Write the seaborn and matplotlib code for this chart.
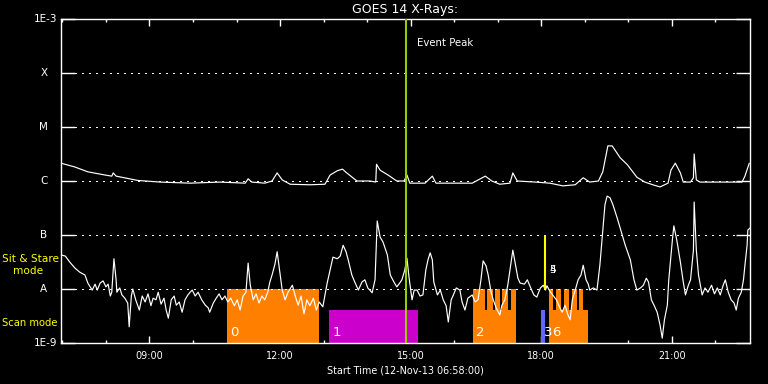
import pandas as pd
import numpy as np
import matplotlib
matplotlib.use("Agg")
import matplotlib.pyplot as plt
import matplotlib.dates as mdates
import seaborn as sns

# =============================================================================
# 01 Data (minutes after start, log10 flux W/m^2)
# =============================================================================
start = pd.Timestamp("2013-11-12 06:58:00")
span_min = 950

# long channel (1-8 A)
long_min = [0, 19, 37, 61, 70, 72, 76, 106, 137, 178, 219, 254, 258, 263, 281, 291,
            298, 305, 316, 343, 364, 371, 381, 388, 394, 408, 426, 434, 435, 440,
            451, 463, 473, 477, 481, 502, 512, 517, 550, 567, 585, 594, 605, 619,
            623, 629, 654, 674, 692, 709, 720, 729, 741, 747, 754, 760, 771, 781,
            794, 805, 816, 826, 837, 841, 847, 854, 858, 868, 872, 873, 876, 881,
            909, 939, 943, 949]
long_log = [-5.67, -5.74, -5.83, -5.89, -5.91, -5.85, -5.91, -5.99, -6.02, -6.04,
            -6.02, -6.04, -5.96, -6.02, -6.04, -6.00, -5.85, -5.98, -6.06, -6.07,
            -6.06, -5.89, -5.81, -5.78, -5.85, -6.00, -6.00, -6.02, -5.69, -5.80,
            -5.89, -6.00, -6.00, -5.89, -6.04, -6.04, -5.91, -6.04, -6.04, -6.04,
            -5.91, -6.00, -6.06, -6.04, -5.85, -6.00, -6.02, -6.04, -6.09, -6.07,
            -5.94, -6.02, -6.00, -5.83, -5.35, -5.35, -5.57, -5.70, -5.93, -6.02,
            -6.07, -6.11, -6.04, -5.80, -5.67, -5.85, -6.02, -6.02, -5.94, -5.50,
            -5.98, -6.02, -6.02, -6.02, -5.91, -5.67]

# short channel (0.5-4 A)
short_min = [0, 6, 12, 19, 26, 33, 37, 43, 47, 50, 54, 58, 62, 65, 68, 70, 73, 76,
             77, 81, 84, 88, 92, 94, 97, 99, 103, 108, 112, 116, 120, 124, 127, 131,
             134, 138, 142, 145, 148, 152, 156, 159, 163, 167, 171, 175, 178, 181,
             185, 189, 194, 199, 203, 205, 210, 214, 218, 222, 226, 230, 234, 239,
             243, 247, 251, 255, 258, 261, 265, 269, 273, 277, 281, 285, 288, 291,
             295, 298, 301, 305, 309, 313, 319, 323, 327, 331, 335, 339, 343, 348,
             352, 356, 361, 367, 371, 375, 381, 385, 389, 393, 396, 401, 405, 410,
             415, 419, 423, 429, 433, 436, 440, 444, 450, 454, 459, 463, 467, 470,
             474, 477, 480, 484, 487, 491, 495, 499, 503, 506, 509, 512, 514, 519,
             523, 527, 531, 534, 538, 541, 545, 550, 553, 557, 561, 567, 571, 575,
             579, 582, 586, 589, 593, 596, 600, 605, 608, 612, 616, 619, 623, 626,
             630, 633, 639, 643, 647, 652, 656, 661, 665, 668, 670, 674, 678, 683,
             688, 691, 695, 699, 702, 705, 709, 713, 717, 720, 724, 727, 729, 734,
             739, 743, 746, 750, 753, 757, 761, 767, 771, 778, 785, 790, 794, 799,
             803, 807, 810, 814, 818, 822, 826, 829, 832, 836, 838, 843, 845, 849,
             854, 858, 861, 865, 868, 872, 873, 876, 879, 884, 888, 892, 897, 901,
             905, 909, 913, 916, 920, 924, 928, 931, 934, 938, 941, 943, 946, 947, 950]
short_log = [-7.37, -7.39, -7.50, -7.61, -7.69, -7.74, -7.89, -8.02, -7.91, -8.02,
             -7.89, -7.85, -7.96, -7.91, -8.13, -8.06, -7.44, -7.83, -8.06, -7.98,
             -8.11, -8.17, -8.26, -8.70, -8.13, -8.00, -8.20, -8.39, -8.13, -8.24,
             -8.09, -8.31, -8.17, -8.20, -8.06, -8.28, -8.17, -8.39, -8.54, -8.20,
             -8.13, -8.30, -8.24, -8.43, -8.20, -8.11, -8.06, -8.02, -8.13, -8.06,
             -8.20, -8.30, -8.35, -8.43, -8.26, -8.17, -8.09, -8.20, -8.13, -8.24,
             -8.17, -8.31, -8.20, -8.39, -8.13, -8.06, -7.52, -7.93, -8.20, -8.09,
             -8.26, -8.13, -8.20, -8.06, -7.87, -7.74, -7.54, -7.31, -7.61, -8.02,
             -8.20, -8.06, -7.93, -8.13, -8.30, -8.13, -8.46, -8.20, -8.31, -8.17,
             -8.39, -8.24, -8.33, -7.89, -7.65, -7.41, -7.44, -7.39, -7.19, -7.31,
             -7.46, -7.74, -7.87, -8.02, -7.87, -7.83, -7.98, -8.07, -7.83, -6.74,
             -7.04, -7.13, -7.37, -7.74, -7.87, -7.96, -7.89, -7.83, -7.65, -7.43,
             -7.80, -8.20, -8.02, -8.02, -8.13, -8.11, -7.65, -7.46, -7.33, -7.46,
             -7.87, -8.11, -8.02, -8.20, -8.31, -8.61, -8.20, -8.11, -7.98, -8.02,
             -8.24, -8.39, -8.17, -8.11, -8.24, -8.20, -7.83, -7.48, -7.57, -7.74,
             -8.06, -8.20, -8.35, -8.48, -8.30, -8.20, -7.93, -7.65, -7.28, -7.50,
             -7.80, -7.89, -7.91, -7.83, -7.96, -8.11, -8.15, -7.98, -7.93, -8.02,
             -7.94, -8.04, -8.11, -8.20, -8.35, -8.43, -8.30, -8.48, -8.57, -8.20,
             -8.02, -7.83, -7.74, -7.56, -7.83, -7.91, -8.02, -7.98, -8.02, -7.56,
             -7.09, -6.44, -6.28, -6.31, -6.44, -6.69, -6.87, -7.19, -7.46, -7.83,
             -8.02, -7.98, -7.93, -7.80, -7.87, -8.20, -8.31, -8.43, -8.67, -8.91,
             -8.57, -8.30, -7.83, -7.09, -6.83, -7.09, -7.50, -7.87, -8.11, -7.93,
             -7.83, -7.28, -6.39, -7.28, -7.74, -8.11, -7.98, -8.06, -7.93, -8.09,
             -7.98, -8.11, -7.93, -7.83, -8.06, -8.20, -8.26, -8.39, -8.17, -8.06,
             -7.83, -7.56, -7.19, -6.91, -6.87]

# IRIS observing blocks: start, end (minutes), mode level (log10)
sit_level = -8.0
scan_level = -8.39
obs_start = [229, 370, 568, 662, 673]
obs_end = [356, 492, 628, 668, 727]
obs_level = [sit_level, scan_level, scan_level, scan_level, scan_level]
obs_color = ["#ff8000", "#cc00cc", "#ff8000", "#6464ff", "#ff8000"]
obs_label = ["0", "1", "2", "3", "6"]

# short sit & stare pieces inside the raster blocks
sit_start = [568, 588, 599, 608, 620, 673, 683, 694, 705, 714]
sit_end = [585, 596, 605, 616, 628, 678, 690, 701, 712, 720]

event_min = 476
flag_min = 668

levels = [-9, -8, -7, -6, -5, -4, -3]
level_names = ["1E-9", "A", "B", "C", "M", "X", "1E-3"]

# =============================================================================
# 02 Plot
# =============================================================================
sns.set_style("ticks")
plt.rcParams.update({
    "figure.facecolor": "black", "axes.facecolor": "black",
    "axes.edgecolor": "white", "text.color": "white",
    "xtick.color": "white", "ytick.color": "white",
    "axes.labelcolor": "white",
})
plt.rcParams["font.family"] = ["DejaVu Sans"]

to_time = lambda m: start + pd.to_timedelta(np.asarray(m), unit="min")

long_df = pd.DataFrame({"time": to_time(long_min), "flux": 10.0 ** np.array(long_log)})
short_df = pd.DataFrame({"time": to_time(short_min), "flux": 10.0 ** np.array(short_log)})

fig = plt.figure(figsize=(7.68, 3.84), dpi=100)
ax = fig.add_axes([61 / 768, 41 / 384, 689 / 768, 324 / 384])
ax.set_yscale("log")

# observation blocks
for s, e, lv, c in zip(obs_start, obs_end, obs_level, obs_color):
    ax.bar(mdates.date2num(to_time([s])[0]), 10.0 ** lv - 1e-9, bottom=1e-9,
           width=(e - s) / 1440, align="edge", color=c, lw=0, zorder=1)
for s, e in zip(sit_start, sit_end):
    ax.bar(mdates.date2num(to_time([s])[0]), 10.0 ** sit_level - 1e-9, bottom=1e-9,
           width=(e - s) / 1440, align="edge", color="#ff8000", lw=0, zorder=1)

sns.lineplot(data=long_df, x="time", y="flux", ax=ax, color="white", linewidth=0.85,
             estimator=None, sort=False, zorder=3)
sns.lineplot(data=short_df, x="time", y="flux", ax=ax, color="white", linewidth=0.85,
             estimator=None, sort=False, zorder=3)

for s, lab in zip(obs_start, obs_label):
    ax.annotate(lab, xy=(to_time([s])[0], 10 ** -8.8), xytext=(2, 0),
                textcoords="offset points", va="center", ha="left",
                fontsize=9.5, color="white", zorder=4)
for lab in ["4", "5"]:
    ax.annotate(lab, xy=(to_time([flag_min])[0], 10 ** -7.65), xytext=(2.5, 0),
                textcoords="offset points", va="center", ha="left",
                fontsize=7.5, color="white", zorder=4)

# flags and event line
ax.vlines(to_time([flag_min])[0], 1e-8, 1e-7, color="#ffff00", lw=1.5, zorder=4)
ax.axvline(to_time([event_min])[0], color="#99cc00", lw=1.5, zorder=5)
ax.annotate("Event Peak", xy=(to_time([event_min])[0], 10 ** -3.44), xytext=(8, 0),
            textcoords="offset points", va="center", fontsize=7.3, color="white")

# dotted level lines
for lv in levels[1:-1]:
    ax.axhline(10.0 ** lv, xmin=14 / 689, xmax=1 - 14 / 689, color="white",
               lw=0.9, ls=(0, (1, 4.5)), zorder=2, antialiased=False)

ax.set_ylim(1e-9, 1e-3)
ax.set_xlim(to_time([0])[0], to_time([span_min])[0])
ax.set_yticks([10.0 ** lv for lv in levels])
ax.set_yticklabels([])
ax.yaxis.set_minor_locator(matplotlib.ticker.NullLocator())
ax.tick_params(axis="y", which="major", length=10, width=1, direction="in",
               left=True, right=True)
ytr = ax.get_yaxis_transform()
for lv, name in zip(levels, level_names):
    if name.startswith("1E"):
        ax.text(-0.006, 10.0 ** lv, name, transform=ytr, ha="right", va="center",
                fontsize=7.5, color="white")
    else:
        ax.text(-0.025, 10.0 ** lv, name, transform=ytr, ha="center", va="center",
                fontsize=7.5, color="white")

ax.xaxis.set_major_locator(mdates.HourLocator(byhour=range(0, 24, 3)))
ax.xaxis.set_minor_locator(mdates.HourLocator())
ax.xaxis.set_major_formatter(mdates.DateFormatter("%H:%M"))
ax.tick_params(axis="x", which="major", length=5, width=1, direction="in",
               top=True, bottom=True, labelsize=6.9, pad=6)
ax.tick_params(axis="x", which="minor", length=2.5, width=1, direction="in",
               top=True, bottom=True)
for sp in ax.spines.values():
    sp.set_visible(True)
    sp.set_linewidth(1)
    sp.set_color("white")
ax.set_ylabel("")
ax.set_xlabel("Start Time (12-Nov-13 06:58:00)", fontsize=6.9, labelpad=3)

fig.text(405 / 768, 1 - 10 / 384, "GOES 14 X-Rays:", ha="center", va="center",
         fontsize=9, color="white")
fig.text(2 / 768, 1 - 259 / 384, "Sit & Stare", ha="left", va="center",
         fontsize=7.6, color="#ffff00")
fig.text(13 / 768, 1 - 271 / 384, "mode", ha="left", va="center",
         fontsize=7.6, color="#ffff00")
fig.text(2 / 768, 1 - 323 / 384, "Scan mode", ha="left", va="center",
         fontsize=7.2, color="#ffff00")

fig.savefig("out.png", dpi=100, facecolor="black")
